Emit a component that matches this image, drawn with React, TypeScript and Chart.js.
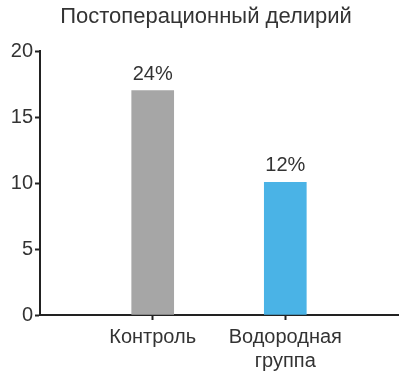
import React, { useEffect, useRef } from "react";
import { Chart, registerables } from "chart.js";
Chart.register(...registerables);

const categories: (string | string[])[] = ["Контроль", ["Водородная", "группа"]];
const values = [17, 10.05];
const pctLabels = ["24%", "12%"];
const barColors = ["#a6a6a6", "#4ab3e6"];
const yTicks = [0, 5, 10, 15, 20];
const title = "Постоперационный делирий";

const FONT = "'Liberation Sans', Arial, sans-serif";
const TXT = "#333333";

export default function App() {
  const ref = useRef<HTMLCanvasElement>(null);
  useEffect(() => {
    const valueLabels = {
      id: "valueLabels",
      afterDatasetsDraw(chart: any) {
        const ctx = chart.ctx;
        const meta = chart.getDatasetMeta(0);
        ctx.save();
        ctx.font = `20px ${FONT}`;
        ctx.fillStyle = TXT;
        ctx.textAlign = "center";
        ctx.textBaseline = "alphabetic";
        meta.data.forEach((el: any, i: number) => {
          ctx.fillText(pctLabels[i], el.x, el.y - 11);
        });
        ctx.restore();
      },
    };
    const titlePlugin = {
      id: "titleText",
      afterDraw(chart: any) {
        const ctx = chart.ctx;
        ctx.save();
        ctx.font = `22px ${FONT}`;
        ctx.fillStyle = TXT;
        ctx.textAlign = "center";
        ctx.textBaseline = "alphabetic";
        ctx.fillText(title, 206, 23);
        ctx.restore();
      },
    };
    const chart = new Chart(ref.current!, {
      type: "bar",
      data: {
        datasets: [
          {
            data: values.map((v, i) => ({ x: i + 1, y: v })),
            backgroundColor: barColors,
            barThickness: 42,
            borderWidth: 0,
          },
        ],
      },
      options: {
        animation: false,
        responsive: false,
        maintainAspectRatio: false,
        layout: { padding: { left: 0, right: 10, top: 51, bottom: 0 } },
        plugins: { legend: { display: false }, tooltip: { enabled: false }, title: { display: false } },
        scales: {
          x: {
            type: "linear",
            min: 0.15,
            max: 2.85,
            offset: false,
            afterBuildTicks: (scale: any) => {
              scale.ticks = categories.map((_, i) => ({ value: i + 1 }));
            },
            afterFit: (scale: any) => {
              scale.height = 63;
            },
            ticks: {
              autoSkip: false,
              maxRotation: 0,
              color: TXT,
              font: { family: FONT, size: 20 },
              padding: 5,
              callback: (v: any) => categories[Math.round(Number(v)) - 1] as any,
            },
            grid: {
              display: true,
              offset: false,
              drawOnChartArea: false,
              drawTicks: true,
              tickLength: 5,
              tickWidth: 2,
              tickColor: "#222222",
            },
            border: { display: true, color: "#222222", width: 2 },
          },
          y: {
            min: 0,
            max: 20,
            afterBuildTicks: (scale: any) => {
              scale.ticks = yTicks.map((v) => ({ value: v }));
            },
            afterFit: (scale: any) => {
              scale.width = 40;
            },
            ticks: {
              color: TXT,
              font: { family: FONT, size: 20 },
              padding: 2,
            },
            grid: {
              display: true,
              drawOnChartArea: false,
              drawTicks: true,
              tickLength: 5,
              tickWidth: 2,
              tickColor: "#222222",
            },
            border: { display: true, color: "#222222", width: 2 },
          },
        },
      },
      plugins: [valueLabels, titlePlugin],
    });
    return () => chart.destroy();
  }, []);
  return (
    <div style={{ position: "fixed", left: 0, top: 0, width: 408, height: 378, background: "#fff" }}>
      <canvas ref={ref} width={408} height={378} style={{ width: 408, height: 378 }} />
    </div>
  );
}
